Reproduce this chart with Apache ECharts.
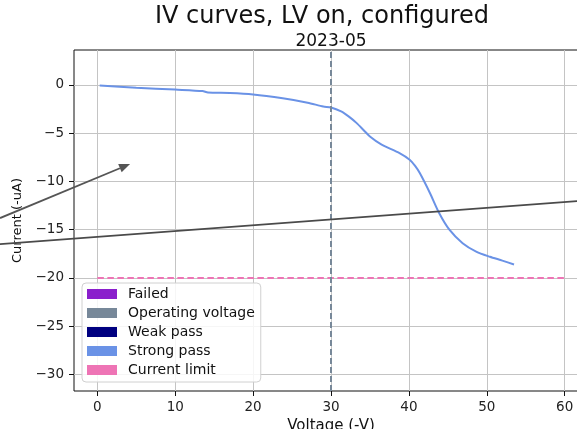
<!DOCTYPE html>
<html><head><meta charset="utf-8">
<script src="https://cdn.jsdelivr.net/npm/echarts@6/dist/echarts.min.js"></script>
<style>html,body{margin:0;padding:0;background:#fff}#c{width:577px;height:429px}</style>
</head><body><div id="c"></div>
<script>
const voltage = [0.3, 5, 10, 13.5, 14.2, 17, 20, 23.8, 27, 29, 30, 31.3, 32.3, 33.3, 34.2, 35, 36.5, 38.8, 40.1, 40.8, 41.4, 42.7, 43.9, 45.2, 46.9, 48.7, 50.4, 52, 53.5];
const current = [-0.07, -0.3, -0.5, -0.65, -0.8, -0.85, -1.0, -1.4, -1.85, -2.25, -2.35, -2.76, -3.3, -3.97, -4.7, -5.35, -6.2, -7.07, -7.76, -8.4, -9.14, -11.2, -13.3, -15.0, -16.4, -17.3, -17.8, -18.2, -18.6];
const xTicks = [0, 10, 20, 30, 40, 50, 60];
const yTicks = [0, -5, -10, -15, -20, -25, -30];
const operatingVoltage = 30;
const currentLimit = -20;
const currentLimitRange = [0, 60];
const legendNames = ['Failed', 'Operating voltage', 'Weak pass', 'Strong pass', 'Current limit'];
const legendColors = ['#8a1fcc', '#778899', '#000080', '#6a92e6', '#ee74b5'];
const arrowFrom = [-12.5, -13.8], arrowTo = [4.2, -8.2];
const lineFrom = [-12.6, -16.5], lineTo = [61.6, -12.05];

const FONT = 'DejaVu Sans';
const chart = echarts.init(document.getElementById('c'), null, {renderer: 'canvas'});
const curve = voltage.map((v, i) => [v, current[i]]);
const fmt = v => (v < 0 ? '\u2212' + Math.abs(v) : String(v));

const option = {
  animation: false,
  backgroundColor: '#fff',
  grid: {left: 74, top: 50, width: 514, height: 341, containLabel: false, outerBoundsMode: 'none',
    show: true, borderColor: '#111', borderWidth: 1, backgroundColor: 'transparent'},
  xAxis: {
    type: 'value', position: 'bottom', min: -3, max: 63, splitNumber: 7, minInterval: 10, maxInterval: 10,
    axisLine: {show: false, onZero: false},
    axisTick: {show: true, customValues: xTicks, length: 5, lineStyle: {color: '#111'}},
    axisLabel: {customValues: xTicks, margin: 9, fontFamily: FONT, fontSize: 13.5, color: '#222', formatter: fmt},
    splitLine: {show: true, lineStyle: {color: '#c4c4c4', width: 1}},
    name: 'Voltage (-V)', nameLocation: 'middle', nameGap: 27,
    nameTextStyle: {fontFamily: FONT, fontSize: 15, color: '#111'}
  },
  yAxis: {
    type: 'value', position: 'left', min: -31.7, max: 3.6, splitNumber: 7, minInterval: 5, maxInterval: 5,
    axisLine: {show: false, onZero: false},
    axisTick: {show: true, customValues: yTicks, length: 5, lineStyle: {color: '#111'}},
    axisLabel: {customValues: yTicks, margin: 10, fontFamily: FONT, fontSize: 13.5, color: '#222', formatter: fmt},
    splitLine: {show: true, lineStyle: {color: '#c4c4c4', width: 1}},
    name: 'Current (-uA)', nameLocation: 'middle', nameGap: 46,
    nameTextStyle: {fontFamily: FONT, fontSize: 13, color: '#111'}
  },
  legend: {
    orient: 'vertical', left: 82, top: 283,
    itemWidth: 30, itemHeight: 10, itemGap: 5,
    padding: [4, 6, 5, 5],
    backgroundColor: 'rgba(255,255,255,0.85)', borderColor: '#d0d0d0', borderWidth: 1, borderRadius: 4,
    textStyle: {fontFamily: FONT, fontSize: 14, lineHeight: 14, color: '#111', padding: [0, 0, 0, 6]},
    selectedMode: false,
    data: legendNames.map((n, i) => ({name: n, icon: 'rect', itemStyle: {color: legendColors[i], borderWidth: 0}}))
  },
  graphic: [
    {id: 't1', type: 'text', x: 322, y: 5, style: {text: 'IV curves, LV on, configured', font: '24px "DejaVu Sans"', fill: '#111', align: 'center', verticalAlign: 'top'}},
    {id: 't2', type: 'text', x: 331, y: 33, style: {text: '2023-05', font: '17px "DejaVu Sans"', fill: '#111', align: 'center', verticalAlign: 'top'}}
  ],
  series: [
    {name: legendNames[0], type: 'line', data: [], color: legendColors[0]},
    {name: legendNames[1], type: 'line', data: [], color: legendColors[1],
      markLine: {silent: true, symbol: 'none', label: {show: false},
        lineStyle: {color: legendColors[1], type: [6, 3], width: 2},
        data: [{xAxis: operatingVoltage}]}},
    {name: legendNames[2], type: 'line', data: [], color: legendColors[2]},
    {name: legendNames[3], type: 'line', data: curve, color: legendColors[3], showSymbol: false, smooth: 0.25,
      lineStyle: {width: 2, color: legendColors[3]}},
    {name: legendNames[4], type: 'line', data: currentLimitRange.map(v => [v, currentLimit]), color: legendColors[4], showSymbol: false,
      lineStyle: {width: 2, color: legendColors[4], type: [6.5, 3.5]}}
  ]
};
chart.setOption(option);

const p = c => chart.convertToPixel({gridIndex: 0}, c);
const a0 = p(arrowFrom), a1 = p(arrowTo), l0 = p(lineFrom), l1 = p(lineTo);
const dx = a1[0] - a0[0], dy = a1[1] - a0[1], len = Math.hypot(dx, dy);
const ux = dx / len, uy = dy / len, hl = 11, hw = 4.5;
const base = [a1[0] - ux * hl, a1[1] - uy * hl];
chart.setOption({graphic: [
  {id: 'l2', type: 'line', shape: {x1: l0[0], y1: l0[1], x2: l1[0], y2: l1[1]}, style: {stroke: '#4a4a4a', lineWidth: 1.8}, z: 100},
  {id: 'a1', type: 'line', shape: {x1: a0[0], y1: a0[1], x2: base[0], y2: base[1]}, style: {stroke: '#555', lineWidth: 1.8}, z: 100},
  {id: 'ah', type: 'polygon', shape: {points: [a1, [base[0] - uy * hw, base[1] + ux * hw], [base[0] + uy * hw, base[1] - ux * hw]]}, style: {fill: '#555'}, z: 100}
]});
</script></body></html>
